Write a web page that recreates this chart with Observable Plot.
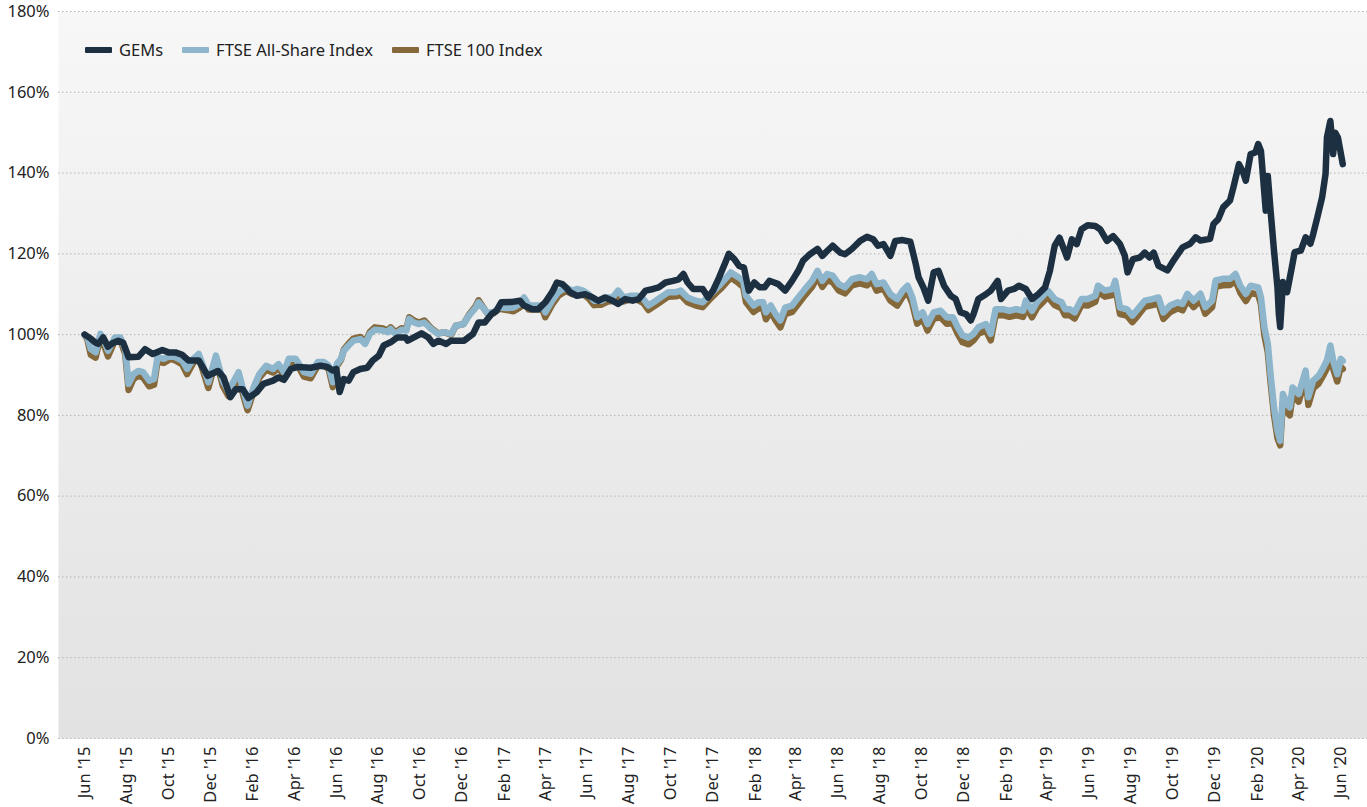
<!DOCTYPE html>
<html><head><meta charset="utf-8">
<script src="https://cdn.jsdelivr.net/npm/d3@7"></script>
<script src="https://cdn.jsdelivr.net/npm/@observablehq/plot@0.6"></script>
<style>
html,body{margin:0;padding:0;background:#fff;}
#wrap{position:relative;width:1367px;height:807px;font-family:"Noto Sans",sans-serif;}
#legend{position:absolute;left:85px;top:38px;display:flex;align-items:center;font-size:16.5px;color:#222;}
.item{display:flex;align-items:center;margin-right:19px;}
.sw{width:27px;height:6px;border-radius:1px;margin-right:7px;}
</style></head><body><div id="wrap"><div id="legend"></div></div>
<script>
// Series names / colours (legend order)
const seriesNames = ["GEMs", "FTSE All-Share Index", "FTSE 100 Index"];
const seriesColors = ["#1c3042", "#8db5cc", "#86693b"];

const yTicks = [0, 20, 40, 60, 80, 100, 120, 140, 160, 180];
const xTicks = ["2015-06-01","2015-08-01","2015-10-01","2015-12-01","2016-02-01","2016-04-01","2016-06-01","2016-08-01","2016-10-01","2016-12-01","2017-02-01","2017-04-01","2017-06-01","2017-08-01","2017-10-01","2017-12-01","2018-02-01","2018-04-01","2018-06-01","2018-08-01","2018-10-01","2018-12-01","2019-02-01","2019-04-01","2019-06-01","2019-08-01","2019-10-01","2019-12-01","2020-02-01","2020-04-01","2020-06-01"];

const gems = [
["2015-06-01",100],["2015-06-10",99],["2015-06-17",98],["2015-06-21",97.7],["2015-06-28",99.3],["2015-07-05",97],["2015-07-13",98],["2015-07-20",98.5],["2015-07-27",98],
["2015-08-04",94.4],["2015-08-18",94.5],["2015-08-28",96.4],["2015-09-08",95.2],["2015-09-22",96.2],["2015-10-01",95.6],["2015-10-11",95.6],["2015-10-21",95],["2015-10-30",93.6],
["2015-11-14",93.6],["2015-11-27",89.8],["2015-12-12",91],["2015-12-20",89.4],["2015-12-30",84.5],["2016-01-07",86.5],["2016-01-17",86.5],["2016-01-25",84.3],["2016-02-06",85.7],
["2016-02-16",87.8],["2016-03-01",88.6],["2016-03-09",89.4],["2016-03-17",88.8],["2016-03-27",91.5],["2016-04-06",92],["2016-04-25",91.8],["2016-05-09",92.3],["2016-05-19",92],
["2016-05-27",91.1],["2016-06-01",91.5],["2016-06-06",85.8],["2016-06-12",89],["2016-06-19",88.6],["2016-06-26",90.7],["2016-07-06",91.5],["2016-07-16",91.8],["2016-07-24",93.6],
["2016-08-02",94.8],["2016-08-09",97.3],["2016-08-19",98.1],["2016-08-29",99.3],["2016-09-10",99.3],["2016-09-13",98.5],["2016-09-22",99.3],["2016-10-03",100.3],["2016-10-13",99.3],
["2016-10-20",97.7],["2016-10-28",98.5],["2016-11-08",97.7],["2016-11-15",98.5],["2016-12-04",98.5],["2016-12-17",100.2],["2016-12-25",103],["2017-01-03",103],["2017-01-13",105.1],
["2017-01-20",105.9],["2017-01-27",108],["2017-02-12",108.1],["2017-02-23",108.4],["2017-03-01",107.2],["2017-03-13",106.3],["2017-03-22",106.3],["2017-04-01",108],["2017-04-11",110.5],
["2017-04-18",112.9],["2017-04-26",112.5],["2017-05-01",111.7],["2017-05-07",110.5],["2017-05-17",109.6],["2017-05-29",110],["2017-06-09",109.2],["2017-06-17",108.4],["2017-06-27",109.2],
["2017-07-08",108.4],["2017-07-16",107.6],["2017-07-26",108.8],["2017-08-06",108.4],["2017-08-15",108.8],["2017-08-25",110.9],["2017-09-05",111.3],["2017-09-13",111.7],["2017-09-23",112.9],
["2017-10-04",113.3],["2017-10-12",113.7],["2017-10-19",115],["2017-10-25",112.9],["2017-11-02",111.3],["2017-11-16",111.3],["2017-11-24",109.2],["2017-12-01",110.9],["2017-12-10",114.2],
["2017-12-20",118.3],["2017-12-24",120],["2018-01-01",118.7],["2018-01-08",117],["2018-01-15",116.6],["2018-01-22",110.9],["2018-01-30",112.9],["2018-02-07",111.7],["2018-02-14",111.7],
["2018-02-21",113.3],["2018-02-28",112.9],["2018-03-06",112.5],["2018-03-16",110.9],["2018-03-26",113.3],["2018-04-04",115.8],["2018-04-11",118.3],["2018-04-21",119.9],["2018-05-02",121.2],
["2018-05-09",119.5],["2018-05-16",120.7],["2018-05-24",122],["2018-06-04",120.3],["2018-06-11",119.9],["2018-06-21",121.2],["2018-07-03",123.2],["2018-07-13",124.2],["2018-07-22",123.6],
["2018-07-29",122],["2018-08-06",122.4],["2018-08-16",119.5],["2018-08-23",123.2],["2018-09-03",123.4],["2018-09-14",123],["2018-09-22",117.4],["2018-09-26",114.2],["2018-10-03",111.7],
["2018-10-10",108.4],["2018-10-18",115.4],["2018-10-25",115.8],["2018-11-02",112.1],["2018-11-12",109.6],["2018-11-19",108.8],["2018-11-26",105.5],["2018-12-04",105.1],["2018-12-11",103.5],
["2018-12-15",105.1],["2018-12-22",108.8],["2019-01-02",110],["2019-01-09",110.9],["2019-01-19",113.3],["2019-01-24",108.8],["2019-02-03",110.9],["2019-02-12",111.3],["2019-02-19",112.1],
["2019-03-01",111.3],["2019-03-10",108.8],["2019-03-19",110],["2019-03-29",111.7],["2019-04-05",115.8],["2019-04-12",122],["2019-04-19",124],["2019-04-30",119.1],["2019-05-07",123.6],
["2019-05-14",122.4],["2019-05-21",126.1],["2019-05-30",127.1],["2019-06-10",126.9],["2019-06-17",126.1],["2019-06-27",123.2],["2019-07-06",124.4],["2019-07-16",122.4],["2019-07-23",119.5],
["2019-07-27",115.4],["2019-08-04",118.7],["2019-08-14",119.1],["2019-08-21",120.3],["2019-08-28",119.1],["2019-09-03",120.3],["2019-09-10",117],["2019-09-23",115.9],["2019-10-02",118.4],
["2019-10-15",121.6],["2019-10-26",122.5],["2019-11-03",124.1],["2019-11-10",123.3],["2019-11-24",123.7],["2019-11-29",127.4],["2019-12-06",128.6],["2019-12-13",131.5],["2019-12-23",133.2],
["2019-12-28",136.5],["2020-01-05",142.2],["2020-01-11",140.2],["2020-01-15",138.1],["2020-01-22",144.7],["2020-01-29",145.1],["2020-02-02",147.2],["2020-02-06",145.5],["2020-02-13",130.7],
["2020-02-16",139.3],["2020-02-20",130.7],["2020-02-25",120.8],["2020-03-01",111.8],["2020-03-03",105.2],["2020-03-05",101.9],["2020-03-09",113],["2020-03-15",110.5],["2020-03-22",116.7],
["2020-03-26",120.4],["2020-04-04",120.8],["2020-04-11",124.1],["2020-04-18",122.5],["2020-04-22",124.9],["2020-04-28",129],["2020-05-05",134],["2020-05-10",139.8],["2020-05-12",148.8],
["2020-05-17",152.9],["2020-05-21",144.7],["2020-05-24",150],["2020-05-28",148.8],["2020-06-04",142.2]
];

const ftseAll = [
["2015-06-01",100],["2015-06-05",99.3],["2015-06-10",96.4],["2015-06-17",95.6],["2015-06-24",100.2],["2015-06-28",99],["2015-07-05",96],["2015-07-15",99.3],["2015-07-23",99.3],["2015-07-30",96.4],
["2015-08-04",87.8],["2015-08-11",90.2],["2015-08-18",91],["2015-08-25",90.7],["2015-09-03",88.6],["2015-09-10",89],["2015-09-15",94.4],["2015-09-24",94],["2015-10-04",94.8],["2015-10-11",94.4],
["2015-10-21",93.6],["2015-10-28",91.5],["2015-11-06",94],["2015-11-14",95.2],["2015-11-21",91.9],["2015-11-28",88.2],["2015-12-09",94.8],["2015-12-19",88.6],["2015-12-27",86],["2016-01-07",89.4],
["2016-01-11",90.7],["2016-01-18",86],["2016-01-24",82.4],["2016-02-02",87],["2016-02-10",90.2],["2016-02-20",92.3],["2016-03-01",91.5],["2016-03-09",92.7],["2016-03-17",90.7],["2016-03-24",94],
["2016-04-03",94],["2016-04-06",93.2],["2016-04-15",90.7],["2016-04-25",90.3],["2016-05-05",93.2],["2016-05-14",93.2],["2016-05-21",92.3],["2016-05-27",88.2],["2016-06-02",92.8],["2016-06-08",94],
["2016-06-12",96],["2016-06-19",97.3],["2016-06-26",98.5],["2016-07-06",98.9],["2016-07-13",97.7],["2016-07-20",100.2],["2016-07-27",101.2],["2016-08-08",101],["2016-08-15",100.6],["2016-08-19",101.4],
["2016-08-26",100.2],["2016-09-04",101.2],["2016-09-11",101],["2016-09-15",103.9],["2016-09-22",103],["2016-09-29",102.6],["2016-10-07",103],["2016-10-17",101.4],["2016-10-27",100.2],["2016-11-05",100.6],
["2016-11-15",100.2],["2016-11-22",102.2],["2016-12-03",102.6],["2016-12-11",104.7],["2016-12-21",106.7],["2016-12-25",108],["2017-01-06",105.5],["2017-01-16",105.5],["2017-01-24",106.7],["2017-02-04",106.6],
["2017-02-14",106.7],["2017-02-23",107.6],["2017-03-01",109.2],["2017-03-08",107.2],["2017-03-18",107.2],["2017-03-28",107.2],["2017-04-01",105.5],["2017-04-11",108.4],["2017-04-20",110.5],["2017-05-01",111.7],
["2017-05-10",110.9],["2017-05-17",111.3],["2017-05-26",110.9],["2017-06-03",110],["2017-06-11",108.4],["2017-06-21",108.4],["2017-07-01",109.2],["2017-07-08",109.2],["2017-07-16",110.9],["2017-07-24",109.2],
["2017-08-03",109.6],["2017-08-13",109.6],["2017-08-22",108.8],["2017-08-29",107.2],["2017-09-09",108.4],["2017-09-19",109.6],["2017-09-27",110.5],["2017-10-08",110.5],["2017-10-15",110.9],["2017-10-25",109.2],
["2017-11-06",108.4],["2017-11-16",108],["2017-11-25",109.6],["2017-12-05",111.3],["2017-12-12",112.5],["2017-12-20",114],["2017-12-27",115.4],["2018-01-07",114.2],["2018-01-14",113.3],["2018-01-18",109.6],
["2018-01-29",107.2],["2018-02-05",108],["2018-02-12",108],["2018-02-16",105.5],["2018-02-23",107.2],["2018-03-02",105.1],["2018-03-09",103.5],["2018-03-16",106.7],["2018-03-26",107.2],["2018-04-04",109.2],
["2018-04-14",111.3],["2018-04-24",113.3],["2018-05-02",115.8],["2018-05-09",113.3],["2018-05-16",115],["2018-05-24",114.6],["2018-06-02",112.5],["2018-06-11",111.7],["2018-06-21",113.7],["2018-07-03",114.2],
["2018-07-13",113.7],["2018-07-20",115],["2018-07-27",112.5],["2018-08-06",112.9],["2018-08-16",110],["2018-08-26",108.8],["2018-09-03",110.9],["2018-09-10",112.1],["2018-09-17",109.2],["2018-09-24",104.3],
["2018-10-02",105.5],["2018-10-09",102.6],["2018-10-18",105.5],["2018-10-28",105.9],["2018-11-06",104.3],["2018-11-15",104.3],["2018-11-22",101.8],["2018-11-29",99.8],["2018-12-08",99.3],["2018-12-15",100.2],
["2018-12-22",101.8],["2019-01-02",102.6],["2019-01-09",100.2],["2019-01-16",106.3],["2019-01-27",106.3],["2019-02-05",105.9],["2019-02-15",106.3],["2019-02-25",105.9],["2019-03-01",108.4],["2019-03-10",105.9],
["2019-03-17",108],["2019-03-26",109.6],["2019-04-02",110.9],["2019-04-12",108.8],["2019-04-22",108],["2019-04-27",106.3],["2019-05-04",106.3],["2019-05-11",105.5],["2019-05-21",108.8],["2019-05-30",108.8],
["2019-06-10",109.6],["2019-06-14",112.1],["2019-06-24",110.9],["2019-07-05",111.3],["2019-07-09",113.3],["2019-07-16",106.7],["2019-07-26",106.3],["2019-08-03",104.7],["2019-08-11",106.3],["2019-08-21",108.4],
["2019-09-01",108.8],["2019-09-10",109.2],["2019-09-17",105.5],["2019-09-27",107.2],["2019-10-08",108],["2019-10-15",107.6],["2019-10-22",110.1],["2019-10-31",108.4],["2019-11-10",110.1],["2019-11-17",106.8],
["2019-11-27",108.4],["2019-12-02",113.4],["2019-12-12",113.8],["2019-12-23",113.8],["2019-12-31",115],["2020-01-07",112.1],["2020-01-15",110.1],["2020-01-22",112.1],["2020-02-02",111.7],["2020-02-06",109.3],
["2020-02-11",101.8],["2020-02-16",97.7],["2020-02-20",90.2],["2020-02-25",82],["2020-03-01",76.2],["2020-03-05",73.7],["2020-03-09",85.3],["2020-03-15",82.8],["2020-03-19",82],["2020-03-23",86.9],
["2020-04-01",85.3],["2020-04-11",91.1],["2020-04-15",84.5],["2020-04-22",88.6],["2020-04-30",89.8],["2020-05-07",91.9],["2020-05-12",93.6],["2020-05-17",97.3],["2020-05-21",93.6],["2020-05-27",90.2],
["2020-06-01",94],["2020-06-04",93.5]
];

const ftse100 = [
["2015-06-01",100],["2015-06-05",98.8],["2015-06-10",95],["2015-06-17",94.3],["2015-06-24",99.6],["2015-06-28",98],["2015-07-05",94.6],["2015-07-15",98.5],["2015-07-23",98.6],["2015-07-30",95.2],
["2015-08-04",86.3],["2015-08-11",89],["2015-08-18",89.8],["2015-08-25",89.4],["2015-09-03",87.2],["2015-09-10",87.6],["2015-09-15",93.4],["2015-09-24",93],["2015-10-04",94],["2015-10-11",93.6],
["2015-10-21",92.6],["2015-10-28",90.2],["2015-11-06",93],["2015-11-14",94.3],["2015-11-21",90.6],["2015-11-28",86.8],["2015-12-09",93.8],["2015-12-19",87.3],["2015-12-27",84.8],["2016-01-07",88.3],
["2016-01-11",89.6],["2016-01-18",84.8],["2016-01-24",81.3],["2016-02-02",86],["2016-02-10",89.3],["2016-02-20",91.3],["2016-03-01",90.6],["2016-03-09",91.8],["2016-03-17",89.8],["2016-03-24",93.2],
["2016-04-03",93.3],["2016-04-06",92.4],["2016-04-15",89.6],["2016-04-25",89.2],["2016-05-05",92.3],["2016-05-14",92.4],["2016-05-21",91.4],["2016-05-27",87],["2016-06-02",92.2],["2016-06-08",93.8],
["2016-06-12",96.3],["2016-06-19",97.8],["2016-06-26",99],["2016-07-06",99.4],["2016-07-13",98.1],["2016-07-20",100.7],["2016-07-27",101.8],["2016-08-08",101.5],["2016-08-15",101],["2016-08-19",101.8],
["2016-08-26",100.6],["2016-09-04",101.6],["2016-09-11",101.4],["2016-09-15",104.3],["2016-09-22",103.5],["2016-09-29",103],["2016-10-07",103.5],["2016-10-17",101.6],["2016-10-27",100.3],["2016-11-05",100.6],
["2016-11-15",100],["2016-11-22",102.2],["2016-12-03",102.6],["2016-12-11",104.9],["2016-12-21",107.1],["2016-12-25",108.5],["2017-01-06",105.4],["2017-01-16",105.3],["2017-01-24",106.4],["2017-02-04",106.1],
["2017-02-14",105.8],["2017-02-23",106.7],["2017-03-01",108.3],["2017-03-08",106.2],["2017-03-18",106.3],["2017-03-28",106.2],["2017-04-01",104.3],["2017-04-11",107.4],["2017-04-20",109.6],["2017-05-01",110.8],
["2017-05-10",110],["2017-05-17",110.4],["2017-05-26",110],["2017-06-03",109],["2017-06-11",107.3],["2017-06-21",107.4],["2017-07-01",108.2],["2017-07-08",108.3],["2017-07-16",110],["2017-07-24",108.2],
["2017-08-03",108.7],["2017-08-13",108.6],["2017-08-22",107.8],["2017-08-29",106.1],["2017-09-09",107.3],["2017-09-19",108.5],["2017-09-27",109.4],["2017-10-08",109.5],["2017-10-15",109.8],["2017-10-25",108],
["2017-11-06",107.2],["2017-11-16",106.8],["2017-11-25",108.5],["2017-12-05",110.2],["2017-12-12",111.3],["2017-12-20",112.8],["2017-12-27",114.1],["2018-01-07",112.8],["2018-01-14",111.8],["2018-01-18",108],
["2018-01-29",105.6],["2018-02-05",106.5],["2018-02-12",106.4],["2018-02-16",103.8],["2018-02-23",105.7],["2018-03-02",103.5],["2018-03-09",101.8],["2018-03-16",105.1],["2018-03-26",105.6],["2018-04-04",107.6],
["2018-04-14",109.8],["2018-04-24",111.8],["2018-05-02",114.3],["2018-05-09",111.8],["2018-05-16",113.5],["2018-05-24",113],["2018-06-02",110.9],["2018-06-11",110.2],["2018-06-21",112.2],["2018-07-03",112.7],
["2018-07-13",112.2],["2018-07-20",113.4],["2018-07-27",110.9],["2018-08-06",111.4],["2018-08-16",108.4],["2018-08-26",107.2],["2018-09-03",109.4],["2018-09-10",110.6],["2018-09-17",107.6],["2018-09-24",102.7],
["2018-10-02",104],["2018-10-09",101],["2018-10-18",104],["2018-10-28",104.3],["2018-11-06",102.7],["2018-11-15",102.8],["2018-11-22",100.2],["2018-11-29",98.1],["2018-12-08",97.6],["2018-12-15",98.6],
["2018-12-22",100.2],["2019-01-02",101],["2019-01-09",98.6],["2019-01-16",104.8],["2019-01-27",104.8],["2019-02-05",104.4],["2019-02-15",104.8],["2019-02-25",104.4],["2019-03-01",106.9],["2019-03-10",104.3],
["2019-03-17",106.5],["2019-03-26",108.1],["2019-04-02",109.4],["2019-04-12",107.3],["2019-04-22",106.5],["2019-04-27",104.8],["2019-05-04",104.8],["2019-05-11",104],["2019-05-21",107.3],["2019-05-30",107.2],
["2019-06-10",108.1],["2019-06-14",110.6],["2019-06-24",109.4],["2019-07-05",109.8],["2019-07-09",111.8],["2019-07-16",105.1],["2019-07-26",104.7],["2019-08-03",103.1],["2019-08-11",104.7],["2019-08-21",106.9],
["2019-09-01",107.3],["2019-09-10",107.7],["2019-09-17",103.9],["2019-09-27",105.6],["2019-10-08",106.5],["2019-10-15",106],["2019-10-22",108.6],["2019-10-31",106.8],["2019-11-10",108.6],["2019-11-17",105.2],
["2019-11-27",106.8],["2019-12-02",111.8],["2019-12-12",112.2],["2019-12-23",112.3],["2019-12-31",113.3],["2020-01-07",110.4],["2020-01-15",108.3],["2020-01-22",110.3],["2020-02-02",109.9],["2020-02-06",107.5],
["2020-02-11",99.8],["2020-02-16",95.6],["2020-02-20",88.2],["2020-02-25",80.1],["2020-03-01",74.4],["2020-03-05",72.6],["2020-03-09",83.3],["2020-03-15",80.8],["2020-03-19",80],["2020-03-23",85],
["2020-04-01",83.4],["2020-04-11",89.2],["2020-04-15",82.6],["2020-04-22",86.7],["2020-04-30",87.9],["2020-05-07",90],["2020-05-12",91.7],["2020-05-17",95.3],["2020-05-21",91.6],["2020-05-27",88.4],
["2020-06-01",92],["2020-06-04",91.5]
];

const parse = d3.utcParse("%Y-%m-%d");
const rows = [];
for (const [name, arr] of [["FTSE 100 Index", ftse100], ["FTSE All-Share Index", ftseAll], ["GEMs", gems]]) {
  for (const [d, v] of arr) rows.push({series: name, date: parse(d), value: v});
}

const chart = Plot.plot({
  width: 1367, height: 807,
  marginTop: 11, marginLeft: 58, marginRight: 0, marginBottom: 69,
  style: {fontFamily: '"Noto Sans", sans-serif', fontSize: "16.5px", color: "#222", background: "transparent", overflow: "visible"},
  x: {type: "utc", domain: [parse("2015-04-24"), parse("2020-07-10")], ticks: xTicks.map(parse),
      tickFormat: d3.utcFormat("%b '%y"), tickRotate: -90, tickSize: 0, tickPadding: 8, label: null},
  y: {domain: [0, 180], ticks: yTicks, tickFormat: d => d + "%", tickSize: 0, tickPadding: 9, label: null},
  color: {domain: seriesNames, range: seriesColors},
  marks: [
    Plot.frame({fill: "#eeeeee", stroke: null}),
    Plot.ruleY(yTicks, {stroke: "#b4b4b4", strokeDasharray: "1.5,2.5", strokeWidth: 1}),
    Plot.line(rows, {x: "date", y: "value", z: "series", stroke: "series", strokeWidth: 6.5,
      strokeLinejoin: "round", strokeLinecap: "round"})
  ]
});

const svg = d3.select(chart);
const grad = svg.insert("defs", ":first-child").append("linearGradient")
  .attr("id", "bgGrad").attr("x1", 0).attr("y1", 0).attr("x2", 0).attr("y2", 1);
grad.append("stop").attr("offset", "0%").attr("stop-color", "#f7f7f7");
grad.append("stop").attr("offset", "100%").attr("stop-color", "#e2e2e2");
svg.selectAll('[aria-label="frame"], [aria-label="frame"] rect').attr("fill", "url(#bgGrad)");

const wrap = document.getElementById("wrap");
wrap.insertBefore(chart, wrap.firstChild);

const legend = d3.select("#legend");
seriesNames.forEach((n, i) => {
  const it = legend.append("div").attr("class", "item");
  it.append("div").attr("class", "sw").style("background", seriesColors[i]);
  it.append("span").text(n);
});
</script></body></html>
